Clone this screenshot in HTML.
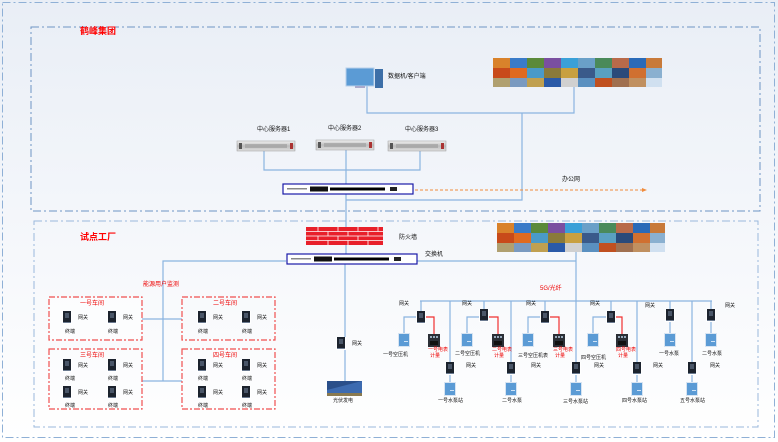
<!DOCTYPE html>
<html><head><meta charset="utf-8"><style>
html,body{margin:0;padding:0;background:#fff;}
svg{display:block;font-family:"Liberation Sans","Noto Sans CJK SC",sans-serif;}
.t{font-size:6px;fill:#111;}
.r{font-size:6px;fill:#e00;}
</style></head><body>
<svg width="778" height="442" viewBox="0 0 778 442" xmlns="http://www.w3.org/2000/svg">
<defs>
<linearGradient id="bg" x1="0" y1="0" x2="0" y2="1"><stop offset="0" stop-color="#e9eef6"/><stop offset="1" stop-color="#ffffff"/></linearGradient>
<linearGradient id="sv" x1="0" y1="0" x2="0" y2="1"><stop offset="0" stop-color="#f2f2f2"/><stop offset="0.5" stop-color="#bdbdbd"/><stop offset="1" stop-color="#e0e0e0"/></linearGradient>
<g id="gw"><rect x="-5" y="-6" width="10" height="13" fill="#fff"/><rect x="-4" y="-6" width="8" height="12" fill="#1c232e"/><rect x="-2" y="-4" width="4" height="5" fill="#4a5668"/><rect x="-4" y="5" width="8" height="1" fill="#6b7a90"/></g>
<g id="bm"><rect x="-6" y="-7" width="12" height="14" fill="#d7e4f2"/><rect x="-5" y="-6" width="10" height="12" fill="#5b9bd5"/><rect x="0" y="1" width="4" height="1" fill="#cfe3f7"/></g>
<g id="dm"><rect x="-6" y="-6" width="12" height="13" fill="#2b2f36"/><rect x="-4" y="-4" width="2" height="2" fill="#9ab"/><rect x="-1" y="-4" width="2" height="2" fill="#9ab"/><rect x="2" y="-4" width="2" height="2" fill="#9ab"/><rect x="-4" y="1" width="8" height="4" fill="#111"/></g>
<g id="srv"><rect x="0" y="0" width="58" height="10" fill="url(#sv)" stroke="#999" stroke-width="0.5"/><rect x="2" y="2" width="3" height="6" fill="#555"/><rect x="53" y="2" width="3" height="6" fill="#a33"/><rect x="8" y="3" width="42" height="4" fill="#9a9a9a" opacity="0.6"/></g>
<g id="sw"><rect x="0" y="0" width="130" height="10" fill="#fff" stroke="#1a1aa8" stroke-width="1.2"/><rect x="4" y="4" width="20" height="1.5" fill="#888"/><rect x="27" y="2.5" width="18" height="5" fill="#111"/><rect x="47" y="3.5" width="55" height="3" fill="#000"/><rect x="107" y="3" width="7" height="4" fill="#222"/></g>
</defs>
<rect width="778" height="442" fill="url(#bg)"/>
<rect x="2.5" y="2.5" width="772" height="435" fill="none" stroke="#8fb0d6" stroke-width="1" stroke-dasharray="8,3,2,3"/>
<rect x="31" y="27" width="729" height="184" fill="none" stroke="#6d94c4" stroke-width="1" stroke-dasharray="8,3,2,3"/>
<rect x="34" y="221" width="724" height="206" fill="none" stroke="#9ab8dc" stroke-width="1" stroke-dasharray="8,3,2,3"/>
<text x="80" y="34" style="font-size:9px;font-weight:bold;fill:#f00">鹤峰集团</text>
<text x="80" y="240" style="font-size:9px;font-weight:bold;fill:#f00">试点工厂</text>

<!-- top lines -->
<g stroke="#8ab4e0" stroke-width="1.2" fill="none">
<polyline points="367,86 367,113 574,113 574,86"/>
<polyline points="522,113 522,200 346,200"/>
<polyline points="264,150 264,170 420,170 420,150"/>
<line x1="346" y1="150" x2="346" y2="261"/>
<polyline points="163,381 163,261 286,261"/>
<polyline points="414,261 576,261"/>
<line x1="576" y1="251" x2="576" y2="301"/>
<line x1="345" y1="264" x2="345" y2="390"/>
<line x1="142" y1="319" x2="182" y2="319"/>
<line x1="142" y1="381" x2="182" y2="381"/>
<line x1="420" y1="301" x2="712" y2="301"/>
</g>
<line x1="415" y1="190" x2="645" y2="190" stroke="#f08c3c" stroke-width="1" stroke-dasharray="3,2"/>
<polygon points="647,190 642,188 642,192" fill="#f08c3c"/>
<text x="562" y="181" class="t">办公网</text>

<!-- computer -->
<rect x="346" y="68" width="28" height="18" fill="#5b9bd5" stroke="#b8d0ea" stroke-width="1"/>
<rect x="375" y="69" width="8" height="19" fill="#3d6fa8"/>
<rect x="355" y="86" width="10" height="2" fill="#aac"/>
<text x="388" y="78" class="t">数据机/客户端</text>

<!-- video wall 1 -->
<g>
<rect x="493" y="58" width="169" height="29" fill="#6a8fb8"/>
<rect x="493" y="58" width="17" height="10" fill="#d9822b"/><rect x="510" y="58" width="17" height="10" fill="#3a7bc8"/><rect x="527" y="58" width="17" height="10" fill="#5b8a3a"/><rect x="544" y="58" width="17" height="10" fill="#7a4fa0"/><rect x="561" y="58" width="17" height="10" fill="#3aa0d8"/><rect x="578" y="58" width="17" height="10" fill="#6aa0c8"/><rect x="595" y="58" width="17" height="10" fill="#4a8a5a"/><rect x="612" y="58" width="17" height="10" fill="#b86a4a"/><rect x="629" y="58" width="17" height="10" fill="#2a6ab8"/><rect x="646" y="58" width="16" height="10" fill="#c87a3a"/>
<rect x="493" y="68" width="17" height="10" fill="#c84a1a"/><rect x="510" y="68" width="17" height="10" fill="#e06a20"/><rect x="527" y="68" width="17" height="10" fill="#4a9ac8"/><rect x="544" y="68" width="17" height="10" fill="#8a7a3a"/><rect x="561" y="68" width="17" height="10" fill="#c8a040"/><rect x="578" y="68" width="17" height="10" fill="#3a5a8a"/><rect x="595" y="68" width="17" height="10" fill="#5aa0c0"/><rect x="612" y="68" width="17" height="10" fill="#2a4a7a"/><rect x="629" y="68" width="17" height="10" fill="#d07030"/><rect x="646" y="68" width="16" height="10" fill="#8ab0d0"/>
<rect x="493" y="78" width="17" height="9" fill="#b0a070"/><rect x="510" y="78" width="17" height="9" fill="#7a9ac0"/><rect x="527" y="78" width="17" height="9" fill="#c0a050"/><rect x="544" y="78" width="17" height="9" fill="#2a5aa8"/><rect x="561" y="78" width="17" height="9" fill="#d0d0d0"/><rect x="578" y="78" width="17" height="9" fill="#5a90c0"/><rect x="595" y="78" width="17" height="9" fill="#c05020"/><rect x="612" y="78" width="17" height="9" fill="#a07050"/><rect x="629" y="78" width="17" height="9" fill="#c09060"/><rect x="646" y="78" width="16" height="9" fill="#d0e0f0"/>
</g>
<!-- video wall 2 -->
<g>
<rect x="497" y="223" width="168" height="29" fill="#6a8fb8"/>
<rect x="497" y="223" width="17" height="10" fill="#d9822b"/><rect x="514" y="223" width="17" height="10" fill="#3a7bc8"/><rect x="531" y="223" width="17" height="10" fill="#5b8a3a"/><rect x="548" y="223" width="17" height="10" fill="#7a4fa0"/><rect x="565" y="223" width="17" height="10" fill="#3aa0d8"/><rect x="582" y="223" width="17" height="10" fill="#6aa0c8"/><rect x="599" y="223" width="17" height="10" fill="#4a8a5a"/><rect x="616" y="223" width="17" height="10" fill="#b86a4a"/><rect x="633" y="223" width="17" height="10" fill="#2a6ab8"/><rect x="650" y="223" width="15" height="10" fill="#c87a3a"/>
<rect x="497" y="233" width="17" height="10" fill="#c84a1a"/><rect x="514" y="233" width="17" height="10" fill="#e06a20"/><rect x="531" y="233" width="17" height="10" fill="#4a9ac8"/><rect x="548" y="233" width="17" height="10" fill="#8a7a3a"/><rect x="565" y="233" width="17" height="10" fill="#c8a040"/><rect x="582" y="233" width="17" height="10" fill="#3a5a8a"/><rect x="599" y="233" width="17" height="10" fill="#5aa0c0"/><rect x="616" y="233" width="17" height="10" fill="#2a4a7a"/><rect x="633" y="233" width="17" height="10" fill="#d07030"/><rect x="650" y="233" width="15" height="10" fill="#8ab0d0"/>
<rect x="497" y="243" width="17" height="9" fill="#b0a070"/><rect x="514" y="243" width="17" height="9" fill="#7a9ac0"/><rect x="531" y="243" width="17" height="9" fill="#c0a050"/><rect x="548" y="243" width="17" height="9" fill="#2a5aa8"/><rect x="565" y="243" width="17" height="9" fill="#d0d0d0"/><rect x="582" y="243" width="17" height="9" fill="#5a90c0"/><rect x="599" y="243" width="17" height="9" fill="#c05020"/><rect x="616" y="243" width="17" height="9" fill="#a07050"/><rect x="633" y="243" width="17" height="9" fill="#c09060"/><rect x="650" y="243" width="15" height="9" fill="#d0e0f0"/>
</g>

<!-- servers -->
<use href="#srv" x="237" y="141"/><use href="#srv" x="316" y="140"/><use href="#srv" x="388" y="141"/>
<text x="257" y="131" class="t">中心服务器1</text>
<text x="328" y="130" class="t">中心服务器2</text>
<text x="405" y="131" class="t">中心服务器3</text>
<use href="#sw" x="283" y="184"/>
<use href="#sw" x="287" y="254"/>
<text x="425" y="256" class="t">交换机</text>

<!-- firewall -->
<g>
<rect x="306" y="227" width="77" height="18" fill="#e8202a"/>
<g stroke="#fff" stroke-width="0.8">
<line x1="306" y1="231.5" x2="383" y2="231.5"/><line x1="306" y1="236" x2="383" y2="236"/><line x1="306" y1="240.5" x2="383" y2="240.5"/>
<line x1="318" y1="227" x2="318" y2="231.5"/><line x1="338" y1="227" x2="338" y2="231.5"/><line x1="358" y1="227" x2="358" y2="231.5"/><line x1="378" y1="227" x2="378" y2="231.5"/>
<line x1="328" y1="231.5" x2="328" y2="236"/><line x1="348" y1="231.5" x2="348" y2="236"/><line x1="368" y1="231.5" x2="368" y2="236"/>
<line x1="318" y1="236" x2="318" y2="240.5"/><line x1="338" y1="236" x2="338" y2="240.5"/><line x1="358" y1="236" x2="358" y2="240.5"/>
<line x1="328" y1="240.5" x2="328" y2="245"/><line x1="348" y1="240.5" x2="348" y2="245"/><line x1="368" y1="240.5" x2="368" y2="245"/>
</g></g>
<text x="399" y="239" class="t">防火墙</text>

<text x="143" y="286" class="r">能源用户监测</text>
<text x="540" y="290" class="r">5G/光纤</text>

<!-- red boxes -->
<g fill="none" stroke="#f05050" stroke-width="1.2" stroke-dasharray="6,2,2,2">
<rect x="49" y="297" width="93" height="43"/><rect x="182" y="297" width="93" height="43"/>
<rect x="49" y="349" width="93" height="60"/><rect x="182" y="349" width="93" height="60"/>
</g>
<g fill="#fff"><rect x="50" y="298" width="91" height="41" opacity="0.5"/></g>
<text x="80" y="305" class="r">一号车间</text>
<text x="213" y="305" class="r">二号车间</text>
<text x="80" y="357" class="r">三号车间</text>
<text x="213" y="357" class="r">四号车间</text>
<g>
<use href="#gw" x="67" y="317"/><use href="#gw" x="112" y="317"/><use href="#gw" x="202" y="317"/><use href="#gw" x="246" y="317"/>
<use href="#gw" x="67" y="365"/><use href="#gw" x="112" y="365"/><use href="#gw" x="202" y="365"/><use href="#gw" x="246" y="365"/>
<use href="#gw" x="67" y="392"/><use href="#gw" x="112" y="392"/><use href="#gw" x="202" y="392"/><use href="#gw" x="246" y="392"/>
</g>
<g class="t" style="font-size:5px">
<text x="78" y="319">网关</text><text x="123" y="319">网关</text><text x="213" y="319">网关</text><text x="257" y="319">网关</text>
<text x="65" y="333">终端</text><text x="108" y="333">终端</text><text x="198" y="333">终端</text><text x="242" y="333">终端</text>
<text x="78" y="367">网关</text><text x="123" y="367">网关</text><text x="213" y="367">网关</text><text x="257" y="367">网关</text>
<text x="65" y="380">终端</text><text x="108" y="380">终端</text><text x="198" y="380">终端</text><text x="242" y="380">终端</text>
<text x="78" y="394">网关</text><text x="123" y="394">网关</text><text x="213" y="394">网关</text><text x="257" y="394">网关</text>
<text x="65" y="407">终端</text><text x="108" y="407">终端</text><text x="198" y="407">终端</text><text x="242" y="407">终端</text>
</g>

<!-- middle gateway + solar -->
<use href="#gw" x="341" y="343"/>
<text x="352" y="345" class="t" style="font-size:5px">网关</text>
<g><rect x="327" y="381" width="35" height="15" fill="#2a4f8a"/><polygon points="327,390 362,381 362,396 327,396" fill="#3d6bb0"/><rect x="327" y="393" width="35" height="3" fill="#8a7a50"/></g>
<text x="333" y="402" class="t" style="font-size:5px">光伏发电</text>

<!-- right branches -->
<g stroke="#8ab4e0" stroke-width="1.2" fill="none">
<line x1="421" y1="301" x2="421" y2="311"/><line x1="484" y1="301" x2="484" y2="311"/><line x1="545" y1="301" x2="545" y2="311"/><line x1="611" y1="301" x2="611" y2="311"/><line x1="670" y1="301" x2="670" y2="309"/><line x1="711" y1="301" x2="711" y2="309"/>
<line x1="450" y1="301" x2="450" y2="362"/><line x1="511" y1="301" x2="511" y2="362"/><line x1="576" y1="301" x2="576" y2="362"/><line x1="637" y1="301" x2="637" y2="362"/><line x1="692" y1="301" x2="692" y2="362"/>
<line x1="450" y1="374" x2="450" y2="383"/><line x1="511" y1="374" x2="511" y2="383"/><line x1="576" y1="374" x2="576" y2="383"/><line x1="637" y1="374" x2="637" y2="383"/><line x1="692" y1="374" x2="692" y2="383"/>
<line x1="670" y1="321" x2="670" y2="333"/><line x1="711" y1="321" x2="711" y2="333"/>
<polyline points="416,317 404,317 404,333"/><polyline points="479,317 467,317 467,333"/><polyline points="540,317 528,317 528,333"/><polyline points="606,317 593,317 593,333"/>
</g>
<g stroke="#f03030" stroke-width="1.2" fill="none">
<polyline points="426,317 434,317 434,334"/><polyline points="489,317 498,317 498,334"/><polyline points="550,317 559,317 559,334"/><polyline points="616,317 622,317 622,334"/>
</g>
<g>
<use href="#gw" x="421" y="317"/><use href="#gw" x="484" y="315"/><use href="#gw" x="545" y="317"/><use href="#gw" x="611" y="317"/><use href="#gw" x="670" y="315"/><use href="#gw" x="711" y="315"/>
<use href="#gw" x="450" y="368"/><use href="#gw" x="511" y="368"/><use href="#gw" x="576" y="368"/><use href="#gw" x="637" y="368"/><use href="#gw" x="692" y="368"/>
<use href="#bm" x="404" y="340"/><use href="#bm" x="467" y="340"/><use href="#bm" x="528" y="340"/><use href="#bm" x="593" y="340"/><use href="#bm" x="670" y="340"/><use href="#bm" x="711" y="340"/>
<use href="#bm" x="450" y="389"/><use href="#bm" x="511" y="389"/><use href="#bm" x="576" y="389"/><use href="#bm" x="637" y="389"/><use href="#bm" x="692" y="389"/>
<use href="#dm" x="434" y="340"/><use href="#dm" x="498" y="340"/><use href="#dm" x="559" y="340"/><use href="#dm" x="622" y="340"/>
</g>
<g class="t" style="font-size:5px">
<text x="399" y="305">网关</text><text x="462" y="305">网关</text><text x="526" y="305">网关</text><text x="590" y="305">网关</text><text x="645" y="307">网关</text><text x="725" y="307">网关</text>
<text x="466" y="367">网关</text><text x="531" y="367">网关</text><text x="594" y="367">网关</text><text x="653" y="367">网关</text><text x="710" y="367">网关</text>
<text x="383" y="356">一号空压机</text><text x="455" y="355">二号空压机</text><text x="518" y="357">三号空压机表</text><text x="581" y="359">四号空压机</text><text x="659" y="355">一号水泵</text><text x="702" y="355">二号水泵</text>
<text x="438" y="402">一号水泵站</text><text x="502" y="402">二号水泵</text><text x="563" y="403">三号水泵站</text><text x="622" y="402">四号水泵站</text><text x="680" y="402">五号水泵站</text>
</g>
<g class="r" style="font-size:5px">
<text x="428" y="351">一号电表</text><text x="430" y="357">计量</text>
<text x="492" y="351">二号电表</text><text x="494" y="357">计量</text>
<text x="553" y="351">三号电表</text><text x="555" y="357">计量</text>
<text x="616" y="351">四号电表</text><text x="618" y="357">计量</text>
</g>
</svg>
</body></html>
